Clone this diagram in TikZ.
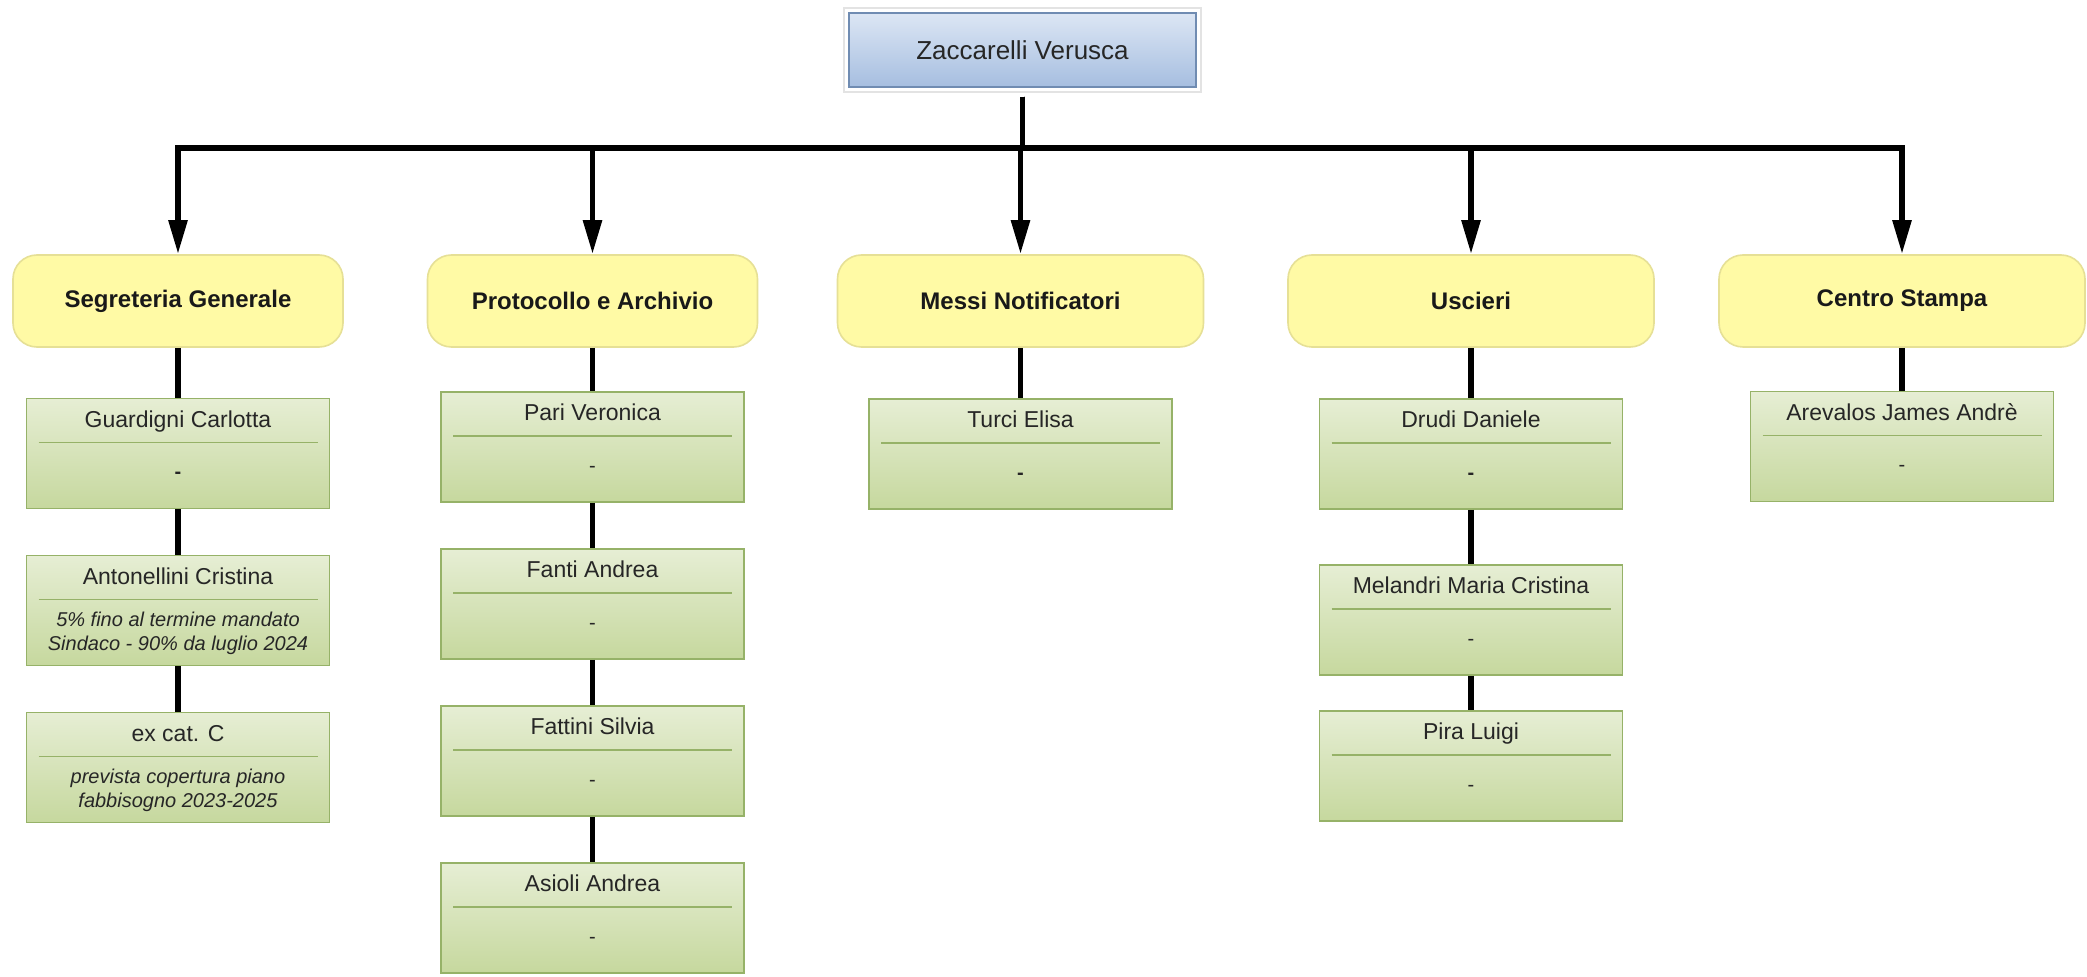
\documentclass[tikz,border=0pt]{standalone}
\usepackage{fontspec}
\setmainfont{Liberation Sans}
\usepackage{tikz}
\usetikzlibrary{arrows.meta,fit}
\definecolor{chieflight}{RGB}{220,230,244}
\definecolor{chiefblue}{RGB}{166,190,224}
\definecolor{chiefborder}{RGB}{112,140,178}
\definecolor{officeyellow}{RGB}{255,250,165}
\definecolor{officeborder}{RGB}{230,224,150}
\definecolor{stafflight}{RGB}{230,238,212}
\definecolor{staffgreen}{RGB}{198,216,158}
\definecolor{staffborder}{RGB}{150,178,104}

% two-part text of a staff card: name on top, note below
\newcommand{\staffcard}[2]{%
  \vbox to 55pt{\hsize=151.5pt
    \vbox to 23pt{\vss\hbox to 151.5pt{\hss\fontsize{11.5}{14}\selectfont\strut #1\hss}\vss}%
    \nointerlineskip
    \vbox to 32pt{\vss\hbox to 151.5pt{\hss\parbox{148pt}{\centering\fontsize{10}{12}\selectfont #2}\hss}\vss}}}

\begin{document}
\begin{tikzpicture}[x=0.5pt, y=0.5pt, node distance=78.5pt,
  chief/.style={draw=chiefborder, line width=0.8pt, top color=chieflight, bottom color=chiefblue,
    minimum width=173.5pt, minimum height=37pt, inner sep=0pt, text=black!85, font=\fontsize{13}{15}\selectfont},
  office/.style={draw=officeborder, line width=0.8pt, fill=officeyellow, rounded corners=12pt,
    minimum width=183pt, minimum height=46pt, inner sep=0pt, text=black!90, font=\fontsize{12}{14}\selectfont\bfseries},
  card/.style={draw=staffborder, line width=0.8pt, top color=stafflight, bottom color=staffgreen,
    minimum width=151.5pt, minimum height=55pt, inner sep=0pt, text=black!85,
    path picture={\draw[staffborder, line width=0.8pt]
      ([xshift=6pt,yshift=-22pt]path picture bounding box.north west) --
      ([xshift=-6pt,yshift=-22pt]path picture bounding box.north east);}},
  orgline/.style={line width=2.8pt},
  orgarrow/.style={orgline, -{Triangle[length=17pt,width=9pt]}}]
\fill[white] (0,0) rectangle (2087,976);
\useasboundingbox (0,0) rectangle (2087,976);

% Head of the service
\node[chief] (top) at (1022.5,926) {Zaccarelli Verusca};
\node[draw=gray!22, line width=0.8pt, inner sep=2pt, fit=(top)] (topframe) {};
\coordinate (bar) at (1022.5,828);

% Offices
\node[office, minimum width=165pt] (segr) at (178,675) {Segreteria Generale};
\node[office, minimum width=165pt] (prot) at (592.5,675) {Protocollo e Archivio};
\node[office] (messi) at (1020.5,675) {Messi Notificatori};
\node[office] (usc) at (1471,675) {Uscieri};
\node[office] (stampa) at (1902,675) {Centro Stampa};

% Staff
\node[card] (guardigni) at (178,522.5) {\staffcard{Guardigni Carlotta}{\textbf{-}}};
\node[card, below of=guardigni] (antonellini) {\staffcard{Antonellini Cristina}{\textit{5\% fino al termine mandato\\Sindaco - 90\% da luglio 2024}}};
\node[card, below of=antonellini] (excat) {\staffcard{ex cat. C}{\textit{prevista copertura piano\\fabbisogno 2023-2025}}};

\node[card] (pari) at (592.5,529) {\staffcard{Pari Veronica}{-}};
\node[card, below of=pari] (fanti) {\staffcard{Fanti Andrea}{-}};
\node[card, below of=fanti] (fattini) {\staffcard{Fattini Silvia}{-}};
\node[card, below of=fattini] (asioli) {\staffcard{Asioli Andrea}{-}};

\node[card] (turci) at (1020.5,522) {\staffcard{Turci Elisa}{\textbf{-}}};

\node[card] (drudi) at (1471,522) {\staffcard{Drudi Daniele}{\textbf{-}}};
\node[card, node distance=83pt, below of=drudi] (melandri) {\staffcard{Melandri Maria Cristina}{-}};
\node[card, node distance=73pt, below of=melandri] (pira) {\staffcard{Pira Luigi}{-}};

\node[card] (arevalos) at (1902,529.5) {\staffcard{Arevalos James Andrè}{-}};

% Connections
\foreach \dept in {segr,prot,messi,usc,stampa}
  \draw[orgarrow, shorten <=2pt] (topframe.south) -- (bar) -| (\dept.north);
\draw[orgline] (segr) -- (guardigni) -- (antonellini) -- (excat);
\draw[orgline] (prot) -- (pari) -- (fanti) -- (fattini) -- (asioli);
\draw[orgline] (messi) -- (turci);
\draw[orgline] (usc) -- (drudi) -- (melandri) -- (pira);
\draw[orgline] (stampa) -- (arevalos);
\end{tikzpicture}
\end{document}
